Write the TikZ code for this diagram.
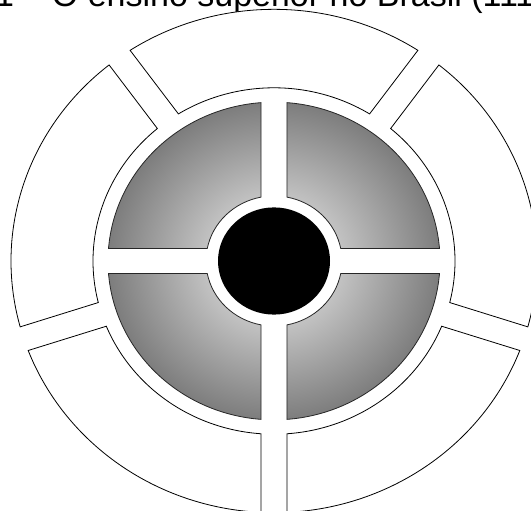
\documentclass[tikz,border=0pt]{standalone}
\usepackage{fontspec}
\setmainfont{Liberation Sans}
\definecolor{shadegray}{HTML}{7D7D7D}
\definecolor{shadelight}{HTML}{F2F2F2}
\pgfdeclareradialshading{grayrad}{\pgfpoint{0bp}{0bp}}{color(0bp)=(shadelight); color(25bp)=(shadegray); color(50bp)=(shadegray)}
\begin{document}
\begin{tikzpicture}[x=1pt,y=1pt,
  seg/.style={draw=black,line width=0.8pt,fill=white,line join=miter},
  quad/.style={draw=black!85,line width=0.8pt}]
\useasboundingbox (0,-511) rectangle (531,0);
\clip (0,-511) rectangle (531,0);
\node[anchor=base west, inner sep=0, font=\fontsize{34}{40}\selectfont] (title) at (-5,-7) {1 – O ensino superior no Brasil (111};
\begin{scope}[shift={(274,-261)}, yscale=0.957]
  \foreach \a in {-90,-18,54,126,198}{
    \begin{scope}[rotate=\a]
      \draw[seg] (4.12:181) arc[start angle=4.12, end angle=67.88, radius=181]
        -- (69.17:263) arc[start angle=69.17, end angle=2.83, radius=263] -- cycle;
    \end{scope}}
  \foreach \a in {0,90,180,270}{
    \begin{scope}[rotate=\a]
      \begin{scope}
        \clip (11.02:68) -- (4.49:166) arc[start angle=4.49, end angle=85.51, radius=166]
          -- (78.98:68) arc[start angle=78.98, end angle=11.02, radius=68] -- cycle;
        \shade[shading=grayrad] (0,0) circle (166);
      \end{scope}
      \draw[quad] (11.02:68) -- (4.49:166) arc[start angle=4.49, end angle=85.51, radius=166]
          -- (78.98:68) arc[start angle=78.98, end angle=11.02, radius=68] -- cycle;
    \end{scope}}
  \fill[black] (0,0) circle (56);
\end{scope}
\end{tikzpicture}
\end{document}
